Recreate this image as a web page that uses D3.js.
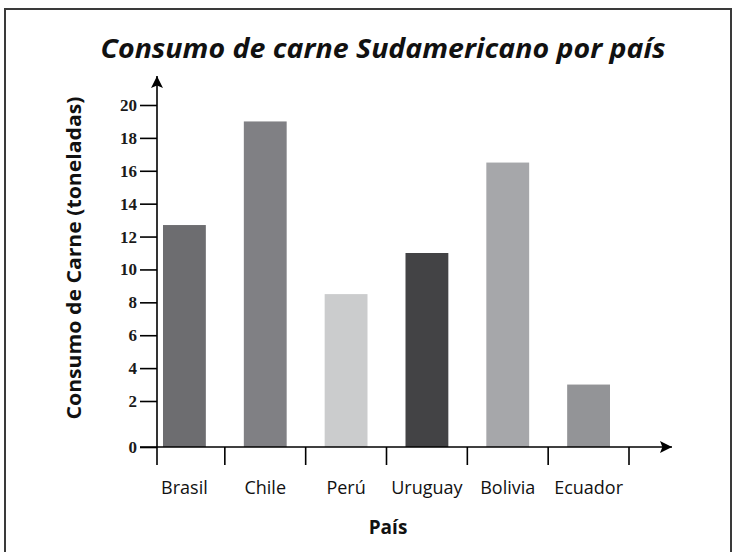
<!DOCTYPE html>
<html>
<head>
<meta charset="utf-8">
<script src="https://cdn.jsdelivr.net/npm/d3@7"></script>
<style>
  body { margin: 0; background: #fff; }
  svg { display: block; }
</style>
</head>
<body>
<div class="chartDiv"></div>
<script>
// data
var paises = ["Brasil", "Chile", "Perú", "Uruguay", "Bolivia", "Ecuador"];
var consumo = [12.7, 19, 8.5, 11, 16.5, 3];
var colores = ["#6d6d70", "#808084", "#cbcccd", "#434345", "#a6a7aa", "#939497"];
var yTicks = [0, 2, 4, 6, 8, 10, 12, 14, 16, 18, 20];

var W = 737, H = 552;
var axisX = 157, baseY = 447;

var svg = d3.select("div.chartDiv").append("svg")
  .attr("width", W).attr("height", H);

// frame, bottom runs off the page
svg.append("rect")
  .attr("x", 5).attr("y", 9).attr("width", 726).attr("height", 560)
  .attr("fill", "none").attr("stroke", "#3a3a3a").attr("stroke-width", 2);

svg.append("text")
  .attr("x", 383).attr("y", 58)
  .attr("text-anchor", "middle")
  .attr("textLength", 565).attr("lengthAdjust", "spacingAndGlyphs")
  .style("font-family", "'Open Sans', sans-serif")
  .style("font-style", "italic").style("font-weight", "bold")
  .style("font-size", "26px").attr("fill", "#111")
  .text("Consumo de carne Sudamericano por país");

// y scale has a wider gap between 0 and 2, like the original
var yScale = d3.scaleLinear().domain([0, 2, 20]).range([baseY, 401, 105]);

var xScale = d3.scaleBand().domain(paises).range([144, 629])
  .paddingInner(0.47).paddingOuter(0.235);
var step = xScale.step();

var data = paises.map(function(p, i) { return {pais: p, valor: consumo[i], color: colores[i]}; });

svg.selectAll("rect.bar").data(data).enter().append("rect")
  .attr("class", "bar")
  .attr("x", function(d) { return xScale(d.pais); })
  .attr("width", xScale.bandwidth())
  .attr("y", function(d) { return yScale(d.valor); })
  .attr("height", function(d) { return yScale(0) - yScale(d.valor); })
  .attr("fill", function(d) { return d.color; });

// arrow heads
var defs = svg.append("defs");
defs.append("marker").attr("id", "arrow")
  .attr("viewBox", "0 0 10 10").attr("refX", 10).attr("refY", 5)
  .attr("markerWidth", 16).attr("markerHeight", 12)
  .attr("markerUnits", "userSpaceOnUse")
  .attr("orient", "auto")
  .append("path").attr("d", "M0,0 L10,5 L0,10 L2,5 Z").attr("fill", "#000");

// y axis
var yAxis = d3.axisLeft(yScale).tickValues(yTicks).tickSize(17).tickPadding(3)
  .tickFormat(d3.format("d"));
var gy = svg.append("g").attr("transform", "translate(" + axisX + ",0)").call(yAxis);
gy.select(".domain").remove();
gy.selectAll(".tick line").attr("stroke", "#000").attr("stroke-width", 1.6);
gy.selectAll(".tick text")
  .style("font-family", "'Liberation Serif', serif")
  .style("font-weight", "bold")
  .style("font-size", "17px").attr("fill", "#1a1a1a");

svg.append("line")
  .attr("x1", axisX).attr("x2", axisX)
  .attr("y1", baseY + 18).attr("y2", 76)
  .attr("stroke", "#000").attr("stroke-width", 1.6)
  .attr("marker-end", "url(#arrow)");

// x axis
svg.append("line")
  .attr("x1", axisX - 17).attr("x2", 672)
  .attr("y1", baseY).attr("y2", baseY)
  .attr("stroke", "#000").attr("stroke-width", 1.6)
  .attr("marker-end", "url(#arrow)");

var bounds = paises.map(function(p) { return xScale(p) + xScale.bandwidth() + step * xScale.paddingInner() / 2; });
svg.selectAll("line.xtick").data(bounds).enter().append("line")
  .attr("class", "xtick")
  .attr("x1", function(d) { return d; }).attr("x2", function(d) { return d; })
  .attr("y1", baseY).attr("y2", baseY + 18)
  .attr("stroke", "#000").attr("stroke-width", 1.6);

svg.selectAll("text.xlab").data(paises).enter().append("text")
  .attr("class", "xlab")
  .attr("x", function(d) { return xScale(d) + xScale.bandwidth() / 2; })
  .attr("y", 494)
  .attr("text-anchor", "middle")
  .style("font-family", "'Open Sans', sans-serif")
  .style("font-size", "18px").attr("fill", "#111")
  .text(function(d) { return d; });

svg.append("text")
  .attr("x", 388).attr("y", 534)
  .attr("text-anchor", "middle")
  .style("font-family", "'Open Sans', sans-serif")
  .style("font-weight", "bold").style("font-size", "19px").attr("fill", "#111")
  .text("País");

svg.append("text")
  .attr("transform", "translate(81,258) rotate(-90)")
  .attr("text-anchor", "middle")
  .attr("textLength", 323).attr("lengthAdjust", "spacingAndGlyphs")
  .style("font-family", "'Open Sans', sans-serif")
  .style("font-weight", "bold").style("font-size", "19px").attr("fill", "#111")
  .text("Consumo de Carne (toneladas)");
</script>
</body>
</html>
